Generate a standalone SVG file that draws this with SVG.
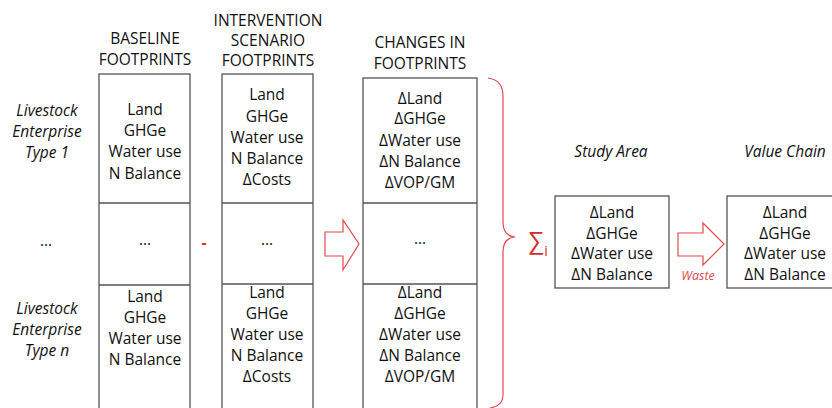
<svg xmlns="http://www.w3.org/2000/svg" width="832" height="408" viewBox="0 0 832 408">
<style>
text{font-family:"Open Sans","Liberation Sans",sans-serif;font-size:15.5px;fill:#111;text-anchor:middle}
.it{font-style:italic}
.box{fill:#fff;stroke:#555;stroke-width:1.3}
.red{fill:none;stroke:#e04a4f;stroke-width:1.2}
.rt{fill:#d42a2a}
</style>
<rect width="832" height="408" fill="#fff"/>
<g id="labels">
<text class="it" x="47" y="116">Livestock</text>
<text class="it" x="47" y="137">Enterprise</text>
<text class="it" x="47" y="158">Type 1</text>
<text x="46" y="246">...</text>
<text class="it" x="47" y="314">Livestock</text>
<text class="it" x="47" y="335">Enterprise</text>
<text class="it" x="47" y="356">Type n</text>
</g>
<g id="baseline">
<text x="145" y="44">BASELINE</text>
<text x="145" y="65">FOOTPRINTS</text>
<rect class="box" x="99" y="74" width="91" height="340"/>
<line class="box" x1="99" y1="203" x2="190" y2="203"/>
<line class="box" x1="99" y1="285" x2="190" y2="285"/>
<text x="145" y="115">Land</text>
<text x="145" y="136">GHGe</text>
<text x="145" y="157">Water use</text>
<text x="145" y="179">N Balance</text>
<text x="145" y="245">...</text>
<text x="145" y="302">Land</text>
<text x="145" y="323">GHGe</text>
<text x="145" y="344">Water use</text>
<text x="145" y="365">N Balance</text>
</g>
<g id="intervention">
<text x="268" y="26">INTERVENTION</text>
<text x="268" y="46">SCENARIO</text>
<text x="268" y="66">FOOTPRINTS</text>
<rect class="box" x="222" y="74" width="91" height="340"/>
<line class="box" x1="222" y1="203" x2="313" y2="203"/>
<line class="box" x1="222" y1="284" x2="313" y2="284"/>
<text x="267" y="100">Land</text>
<text x="267" y="122">GHGe</text>
<text x="267" y="143">Water use</text>
<text x="267" y="164">N Balance</text>
<text x="267" y="185">ΔCosts</text>
<text x="267" y="245">...</text>
<text x="267" y="298">Land</text>
<text x="267" y="319">GHGe</text>
<text x="267" y="340">Water use</text>
<text x="267" y="361">N Balance</text>
<text x="267" y="382">ΔCosts</text>
</g>
<g id="changes">
<text x="420" y="48">CHANGES IN</text>
<text x="420" y="69">FOOTPRINTS</text>
<rect class="box" x="363" y="78" width="114" height="336"/>
<line class="box" x1="363" y1="203" x2="477" y2="203"/>
<line class="box" x1="363" y1="284" x2="477" y2="284"/>
<text x="420" y="104">ΔLand</text>
<text x="420" y="124">ΔGHGe</text>
<text x="420" y="146">ΔWater use</text>
<text x="420" y="167">ΔN Balance</text>
<text x="420" y="188">ΔVOP/GM</text>
<text x="420" y="244">...</text>
<text x="420" y="298">ΔLand</text>
<text x="420" y="319">ΔGHGe</text>
<text x="420" y="340">ΔWater use</text>
<text x="420" y="361">ΔN Balance</text>
<text x="420" y="382">ΔVOP/GM</text>
</g>
<g id="study-area">
<text class="it" x="611" y="157">Study Area</text>
<rect class="box" x="555" y="196" width="114" height="92"/>
<text x="612" y="218">ΔLand</text>
<text x="612" y="239">ΔGHGe</text>
<text x="612" y="259">ΔWater use</text>
<text x="612" y="280">ΔN Balance</text>
</g>
<g id="value-chain">
<text class="it" x="785" y="157">Value Chain</text>
<rect class="box" x="727" y="196" width="120" height="92"/>
<text x="785" y="218">ΔLand</text>
<text x="785" y="239">ΔGHGe</text>
<text x="785" y="259">ΔWater use</text>
<text x="785" y="280">ΔN Balance</text>
</g>
<g id="connectors">
<text class="rt" x="204" y="248" style="font-weight:bold">-</text>
<path class="red" d="M325,232 H343 V220 L359,244 L343,270 V256 H325 Z"/>
<path class="red" d="M488,78 Q503,80 503,96 V222 Q503,236 515,237 Q503,238 503,252 V395 Q503,406 490,408"/>
<text class="rt" x="536" y="249" style="font-size:24px">∑</text>
<text class="rt" x="546" y="256" style="font-size:14px">i</text>
<path class="red" d="M678,233 H703 V223 L724,244 L703,265 V256 H678 Z"/>
<text class="it" x="698" y="280" style="fill:#e04a4f;font-size:12.5px">Waste</text>
</g>
</svg>
